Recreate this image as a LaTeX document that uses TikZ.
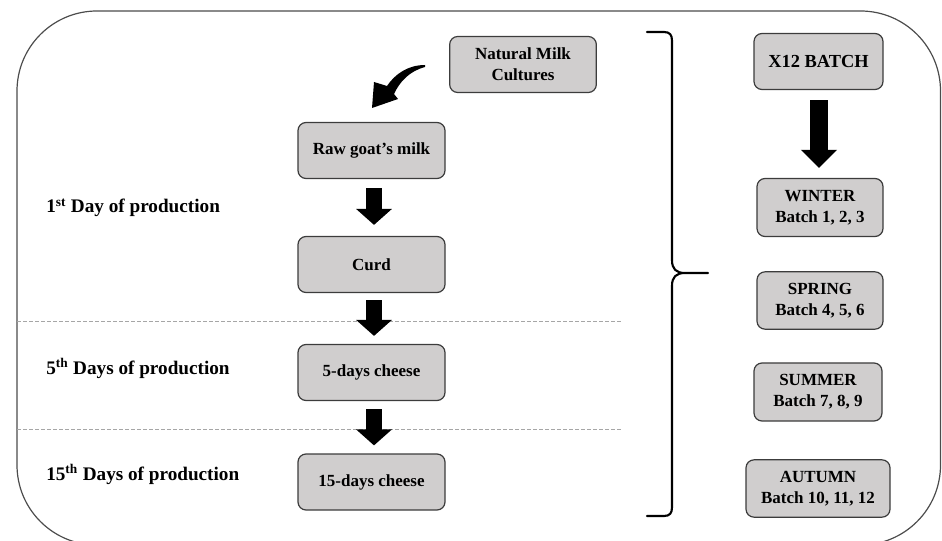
\documentclass[tikz,border=0pt]{standalone}
\usepackage{fontspec}
\setmainfont{Liberation Serif}
\usetikzlibrary{arrows.meta,calc}
\definecolor{boxfill}{HTML}{D0CECE}
\definecolor{boxline}{HTML}{3C3C3C}
\begin{document}
\begin{tikzpicture}[x=0.75pt,y=-0.75pt,
  box/.style={draw=boxline, fill=boxfill, line width=0.9pt, rounded corners=6pt,
    minimum height=42pt, align=center, inner sep=2pt,
    font=\fontsize{12.75}{15.5}\selectfont\bfseries},
  lbl/.style={anchor=base west, inner sep=0pt,
    font=\fontsize{14.4}{17}\selectfont\bfseries},
  blockarrow/.style={line width=12pt, -{Triangle[length=12pt,width=26.25pt]}},
  bigarrow/.style={line width=13.5pt, -{Triangle[length=13.5pt,width=26.25pt]}},
  sepline/.style={draw=black!35, line width=0.75pt, dash pattern=on 3pt off 1.5pt},
  bracestyle/.style={line width=1.6pt, line join=round, line cap=round}]

\useasboundingbox (0,0) rectangle (942,541);

% frame
\draw[black!70, line width=0.9pt, rounded corners=60pt] (17,11) rectangle (940.5,545);

% separators
\coordinate (s1a) at (17,322);  \coordinate (s1b) at (623,322);
\coordinate (s2a) at (17,429);  \coordinate (s2b) at (623,429);
\draw[sepline] (s1a) -- (s1b);
\draw[sepline] (s2a) -- (s2b);

% left column
\node[box, minimum width=110pt] (natural) at (523,64.5) {Natural Milk\\Cultures};
\node[box, minimum width=110.25pt] (raw) at (371.5,150.5) {Raw goat’s milk};
\node[box, minimum width=110.25pt] (curd) at (371.5,264.5) {Curd};
\node[box, minimum width=110.25pt] (five) at (371.5,372.5) {5-days cheese};
\node[box, minimum width=110.25pt] (fifteen) at (371.5,482) {15-days cheese};

% labels
\node[lbl] (d1) at (46,213) {1\textsuperscript{st} Day of production};
\node[lbl] (d5) at (46,374) {5\textsuperscript{th} Days of production};
\node[lbl] (d15) at (46,480) {15\textsuperscript{th} Days of production};

% right column
\node[box, minimum width=96.75pt, font=\fontsize{13.8}{16}\selectfont\bfseries] (x12) at (818.5,61.5) {X12 BATCH};
\node[box, minimum width=94.5pt, minimum height=43.5pt] (winter) at (820,207.5) {WINTER\\Batch 1, 2, 3};
\node[box, minimum width=94.5pt, minimum height=43pt] (spring) at (820,300.5) {SPRING\\Batch 4, 5, 6};
\node[box, minimum width=96pt, minimum height=43.5pt] (summer) at (818,392) {SUMMER\\Batch 7, 8, 9};
\node[box, minimum width=108pt, minimum height=43pt] (autumn) at (818,488.5) {AUTUMN\\Batch 10, 11, 12};

% curved arrow from cultures to milk
\fill (425,65) .. controls (408,65) and (395,74) .. (387,86) -- (374,82) -- (372,108)
  -- (398,99) -- (394,94) .. controls (400,81) and (410,71) .. (425,67) -- cycle;

% block arrows
\draw[blockarrow] ($(raw.south)+(2.5,9)$) -- ($(curd.north)+(2.5,-11)$);
\draw[blockarrow] ($(curd.south)+(2.5,7)$) -- ($(five.north)+(2.5,-8)$);
\draw[blockarrow] ($(five.south)+(2.5,8)$) -- ($(fifteen.north)+(2.5,-8)$);
\draw[bigarrow] ($(x12.south)+(0.5,10)$) -- ($(winter.north)+(-1,-10)$);

% brace
\draw[bracestyle] (647,32) -- (664,32) .. controls (670,32) and (672,35) .. (672,41)
  -- (672,260) .. controls (672,269) and (676,273) .. (685,273) -- (708,273)
  -- (685,273) .. controls (676,273) and (672,277) .. (672,286)
  -- (672,507) .. controls (672,513) and (670,516) .. (664,516) -- (647,516);
\end{tikzpicture}
\end{document}
